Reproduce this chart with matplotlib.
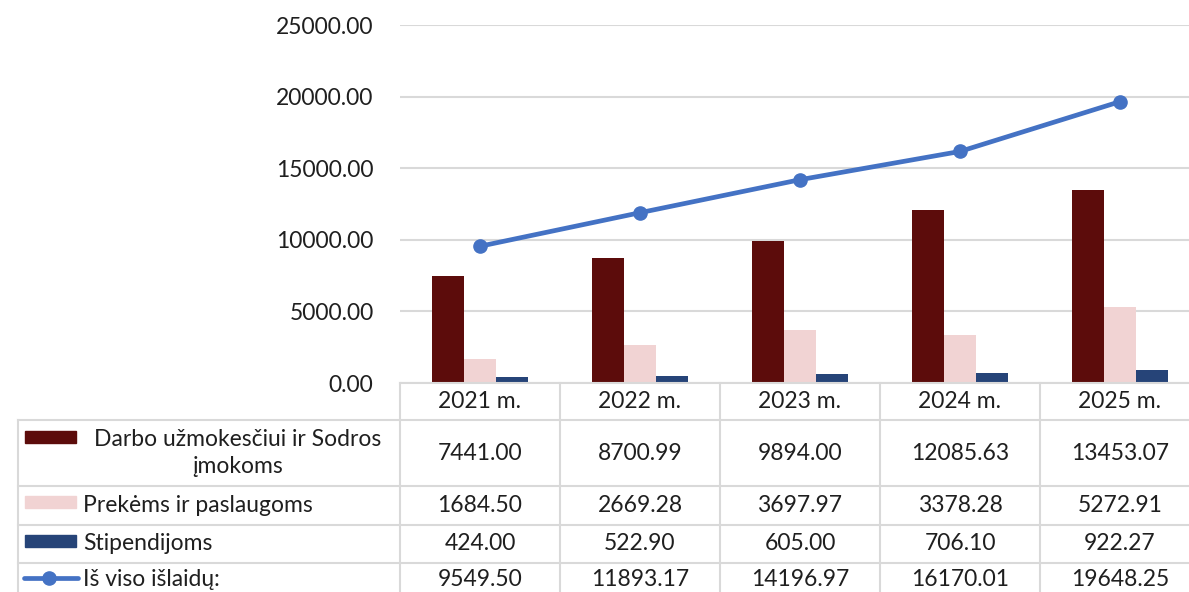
import matplotlib.pyplot as plt
import matplotlib.transforms as mtransforms
from matplotlib.lines import Line2D
from matplotlib.patches import Rectangle

years = ["2021 m.", "2022 m.", "2023 m.", "2024 m.", "2025 m."]
darbo = [7441.00, 8700.99, 9894.00, 12085.63, 13453.07]
prekes = [1684.50, 2669.28, 3697.97, 3378.28, 5272.91]
stipendijos = [424.00, 522.90, 605.00, 706.10, 922.27]
is_viso = [9549.50, 11893.17, 14196.97, 16170.01, 19648.25]

series_labels = ["Darbo užmokesčiui ir Sodros\nįmokoms", "Prekėms ir paslaugoms",
                 "Stipendijoms", "Iš viso išlaidų:"]
bar_colors = ["#5C0C0B", "#F1D3D3", "#264478"]
line_color = "#4472C4"
grid_color = "#D9D9D9"
text_color = "#1F1F1F"

plt.rcParams["font.family"] = ["Lato", "DejaVu Sans"]
FS = 16.5

W, H = 1189, 592
fig = plt.figure(figsize=(W / 100, H / 100), dpi=100)


def fx(px):
    return px / W


def fy(py):
    return 1 - py / H


# plot area in pixels: x 400..1189, y 25..383
ax = fig.add_axes([fx(400), fy(383), fx(1189) - fx(400), fy(25) - fy(383)])
x = list(range(len(years)))
bw = 0.195
step = 0.2
for i, (vals, col) in enumerate(zip([darbo, prekes, stipendijos], bar_colors)):
    ax.bar([xi + (i - 1) * step for xi in x], vals, width=bw, color=col, zorder=2)
ax.plot(x, is_viso, color=line_color, lw=3.4, marker="o", markersize=9.5, zorder=3,
        solid_capstyle="round")

ax.set_xlim(-0.5, 4.5 - 11 / 160)
ax.set_ylim(0, 25000)
ax.set_yticks(range(0, 25001, 5000))
ax.set_yticklabels([f"{v:.2f}" for v in range(0, 25001, 5000)], fontsize=FS,
                   color=text_color)
ax.tick_params(axis="y", length=0, pad=19)
ax.tick_params(axis="x", length=0, labelbottom=False)
ax.yaxis.grid(True, color=grid_color, lw=1.5, zorder=0)
for s in ["left", "right", "top"]:
    ax.spines[s].set_visible(False)
ax.spines["bottom"].set_color(grid_color)
ax.spines["bottom"].set_linewidth(1.5)

# data table under the chart
tr = mtransforms.blended_transform_factory(ax.transData, fig.transFigure)
row_lines = [420, 486, 525, 563]
for py in row_lines:
    fig.add_artist(Line2D([fx(18), 1], [fy(py), fy(py)], color=grid_color, lw=1.5))
for b in [-0.5, 0.5, 1.5, 2.5, 3.5]:
    fig.add_artist(Line2D([b, b], [fy(383), 0], color=grid_color, lw=1.5,
                          transform=tr))
fig.add_artist(Line2D([fx(18), fx(18)], [fy(420), 0], color=grid_color, lw=1.5))

for xi, yr in zip(x, years):
    fig.text(xi, fy(402), yr, transform=tr, ha="center", va="center",
             fontsize=FS, color=text_color)

row_centers = [453, 505, 544, 580]
for vals, py in zip([darbo, prekes, stipendijos, is_viso], row_centers):
    for xi, v in zip(x, vals):
        fig.text(xi, fy(py), f"{v:.2f}", transform=tr, ha="center", va="center",
                 fontsize=FS, color=text_color)

# legend keys and row labels
key_y = [437, 502, 541]
for col, py in zip(bar_colors, key_y):
    fig.add_artist(Rectangle((fx(25), fy(py + 6)), fx(76) - fx(25), fy(py - 6) - fy(py + 6),
                             color=col, transform=fig.transFigure))
fig.add_artist(Line2D([fx(24), fx(78)], [fy(578), fy(578)], color=line_color, lw=3.4,
                      solid_capstyle="round", transform=fig.transFigure))
fig.add_artist(Line2D([fx(49)], [fy(578)], color=line_color, marker="o", markersize=9.5,
                      transform=fig.transFigure))

fig.text(fx(238), fy(453), series_labels[0], ha="center", va="center", fontsize=FS,
         color=text_color, linespacing=1.3)
for lab, py in zip(series_labels[1:], row_centers[1:]):
    fig.text(fx(83), fy(py), lab, ha="left", va="center", fontsize=FS, color=text_color)

fig.savefig("out.png", dpi=100)
